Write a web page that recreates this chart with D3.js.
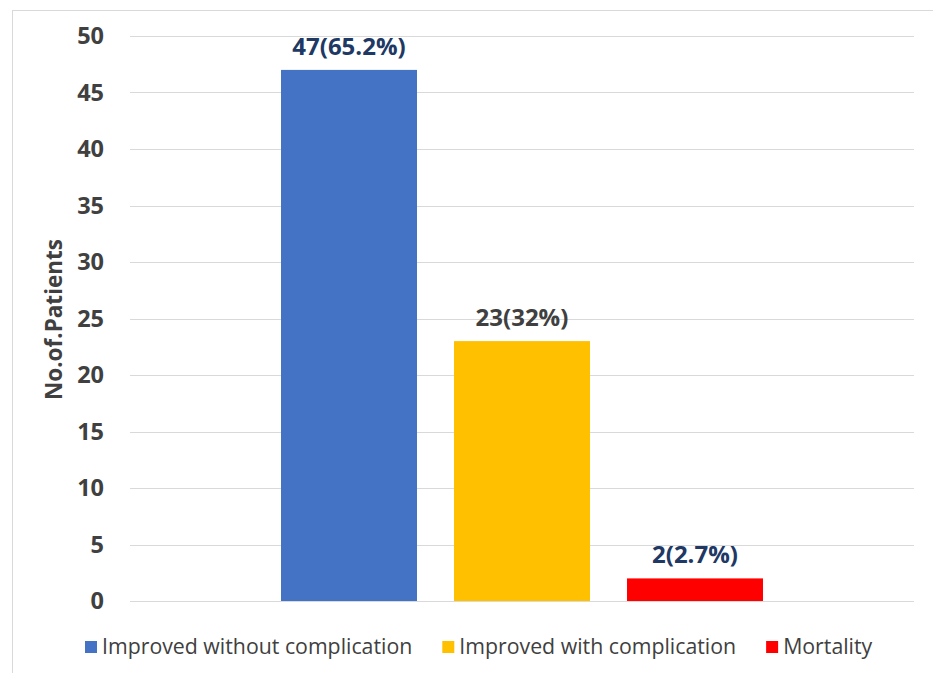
<!DOCTYPE html>
<html>
<head>
<meta charset="utf-8">
<script src="https://cdn.jsdelivr.net/npm/d3@7"></script>
<style>
  html, body { margin: 0; padding: 0; background: #ffffff; }
  svg { display: block; font-family: "Open Sans", "Liberation Sans", sans-serif; }
</style>
</head>
<body>
<svg id="chart" width="933" height="673"></svg>
<script>
// Outcome of patients (single group, three outcomes)
const outcomes = ["Improved without complication", "Improved with complication", "Mortality"];
const patients = [47, 23, 2];
const percentLabels = ["65.2%", "32%", "2.7%"];
const barColors = ["#4472C4", "#FFC000", "#FF0000"];
const labelColors = ["#203864", "#404040", "#203864"];
const yTicks = [0, 5, 10, 15, 20, 25, 30, 35, 40, 45, 50];
const yTitle = "No.of.Patients";

const svg = d3.select("#chart");

// chart frame
svg.append("rect")
  .attr("x", 12.5).attr("y", 10.5)
  .attr("width", 940).attr("height", 700)
  .attr("fill", "#fff")
  .attr("stroke", "#d9d9d9").attr("stroke-width", 1);

const plot = { left: 130, right: 914, top: 36, bottom: 601 };

const y = d3.scaleLinear().domain([0, 50]).range([plot.bottom, plot.top]);

// one category band, with the three outcomes as sub-bands
const x0 = d3.scaleBand().domain(["all"]).range([plot.left, plot.right])
  .paddingInner(0).paddingOuter(0.3133);
const x1 = d3.scaleBand().domain(outcomes).range([0, x0.bandwidth()])
  .paddingInner(0.214).paddingOuter(0);

// gridlines
svg.append("g")
  .selectAll("line")
  .data(yTicks)
  .join("line")
  .attr("x1", plot.left).attr("x2", plot.right)
  .attr("y1", d => Math.round(y(d)) + 0.5)
  .attr("y2", d => Math.round(y(d)) + 0.5)
  .attr("stroke", "#d9d9d9").attr("stroke-width", 1);

// y axis labels
const yAxis = d3.axisLeft(y).tickValues(yTicks).tickSize(0).tickPadding(26);
const gy = svg.append("g").attr("transform", `translate(${plot.left},0)`).call(yAxis);
gy.select(".domain").remove();
gy.selectAll("text")
  .attr("font-family", "'Open Sans', sans-serif")
  .attr("font-size", 23.5).attr("font-weight", "bold")
  .attr("fill", "#404040");

// axis title
svg.append("text")
  .attr("transform", `translate(62,${(plot.top + plot.bottom) / 2 + 1}) rotate(-90)`)
  .attr("text-anchor", "middle")
  .attr("font-size", 22.5).attr("font-weight", "bold")
  .attr("fill", "#404040")
  .text(yTitle);

// bars
const rows = outcomes.map((o, i) => ({ name: o, value: patients[i], pct: percentLabels[i], color: barColors[i], lc: labelColors[i] }));
const g = svg.append("g").attr("transform", `translate(${x0("all")},0)`);
g.selectAll("rect")
  .data(rows)
  .join("rect")
  .attr("x", d => x1(d.name))
  .attr("y", d => y(d.value))
  .attr("width", x1.bandwidth())
  .attr("height", d => y(0) - y(d.value))
  .attr("fill", d => d.color);

// value labels
g.selectAll("text.val")
  .data(rows)
  .join("text")
  .attr("class", "val")
  .attr("x", d => x1(d.name) + x1.bandwidth() / 2)
  .attr("y", d => y(d.value) - 15)
  .attr("text-anchor", "middle")
  .attr("font-size", 24).attr("font-weight", "bold")
  .attr("fill", d => d.lc)
  .text(d => `${d.value}(${d.pct})`);

// legend
const legend = svg.append("g").attr("transform", "translate(85,647)");
let cx = 0;
rows.forEach(d => {
  const item = legend.append("g").attr("transform", `translate(${cx},0)`);
  item.append("rect").attr("x", 0).attr("y", -6).attr("width", 12).attr("height", 12).attr("fill", d.color);
  const t = item.append("text")
    .attr("x", 17).attr("y", 0).attr("dy", "0.35em")
    .attr("font-size", 21.3).attr("fill", "#404040")
    .text(d.name);
  cx += 17 + t.node().getComputedTextLength() + 30;
});
</script>
</body>
</html>
